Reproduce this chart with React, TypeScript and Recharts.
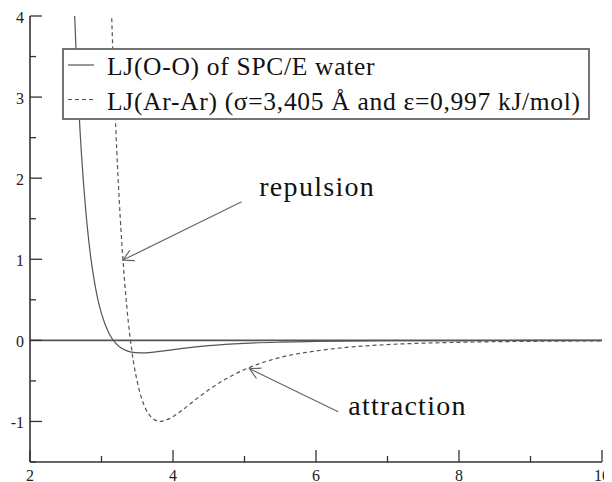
import { LineChart, Line, XAxis, YAxis, ReferenceLine, Legend } from 'recharts';

// LJ(O-O), SPC/E water: separation r (Å) and potential
const ooR = [2.6, 2.65, 2.7, 2.75, 2.8, 2.85, 2.9, 2.95, 3.0, 3.1, 3.2, 3.3, 3.4, 3.55, 3.7, 3.9, 4.2, 4.5, 5, 5.5, 6, 7, 8, 9, 10];
const ooV = [4.57, 3.44, 2.58, 1.92, 1.41, 1.02, 0.73, 0.5, 0.33, 0.095, -0.036, -0.107, -0.141, -0.155, -0.148, -0.127, -0.093, -0.066, -0.037, -0.022, -0.013, -0.005, -0.0024, -0.0012, -0.0006];

// LJ(Ar-Ar)
const arR = [3.14, 3.16, 3.2, 3.25, 3.3, 3.35, 3.4, 3.45, 3.5, 3.6, 3.7, 3.82, 3.95, 4.1, 4.3, 4.5, 4.75, 5, 5.5, 6, 6.5, 7, 8, 9, 10];
const arV = [4.06, 3.53, 2.61, 1.7, 1.0, 0.45, 0.036, -0.28, -0.51, -0.81, -0.95, -1.0, -0.965, -0.88, -0.74, -0.61, -0.47, -0.36, -0.21, -0.13, -0.081, -0.052, -0.024, -0.012, -0.006];

const xTicks = [2, 3, 4, 5, 6, 7, 8, 9, 10];
const yTicks = [-1.5, -1, -0.5, 0, 0.5, 1, 1.5, 2, 2.5, 3, 3.5, 4];

const seriesNames = ['LJ(O-O) of SPC/E water', 'LJ(Ar-Ar) (σ=3,405 Å and ε=0,997 kJ/mol)'];

// arrow annotations: text, arrow tail and arrow tip in data units
const noteText = ['repulsion', 'attraction'];
const noteFrom = [[4.96, 1.71], [6.31, -0.88]];
const noteTo = [[3.3, 0.99], [5.07, -0.35]];

const ooData = ooR.map((r, i) => ({ r, v: ooV[i] }));
const arData = arR.map((r, i) => ({ r, v: arV[i] }));

const SERIF = "'Liberation Serif'";
const AXIS = '#333';
const CURVE = '#555';
const dashes = [undefined, '4 3'];
const noteOffset = [[17.6, -5.7], [10, 3.3]];

function XTick(props: any) {
  const { x, y, payload, side } = props;
  const v = payload.value;
  const major = v % 2 === 0;
  const len = major ? 12 : 6;
  const dir = side === 'bottom' ? -1 : 1;
  return (
    <g>
      <line x1={x} y1={y} x2={x} y2={y + dir * len} stroke={AXIS} strokeWidth={1.3} />
      {side === 'bottom' && major && (
        <text x={x} y={y + 18.5} textAnchor="middle" fontSize={16} fontFamily={SERIF} fill="#222">
          {String(v)}
        </text>
      )}
    </g>
  );
}

function YTick(props: any) {
  const { x, y, payload, side } = props;
  const v = payload.value;
  const major = Number.isInteger(v);
  const len = major ? 12 : 6;
  const dir = side === 'left' ? 1 : -1;
  return (
    <g>
      <line x1={x} y1={y} x2={x + dir * len} y2={y} stroke={AXIS} strokeWidth={1.3} />
      {side === 'left' && major && (
        <text x={x - 6} y={y + 6.5} textAnchor="end" fontSize={16} fontFamily={SERIF} fill="#222">
          {String(v)}
        </text>
      )}
    </g>
  );
}

function Arrow(props: any) {
  const { x1, y1, x2, y2, idx } = props;
  const ang = Math.atan2(y1 - y2, x1 - x2);
  const w = 0.5;
  const L = 12;
  const d = `M${x2 + L * Math.cos(ang + w)},${y2 + L * Math.sin(ang + w)}L${x2},${y2}L${x2 + L * Math.cos(ang - w)},${y2 + L * Math.sin(ang - w)}`;
  return (
    <g>
      <line x1={x1} y1={y1} x2={x2} y2={y2} stroke="#666" strokeWidth={1.2} />
      <path d={d} fill="none" stroke="#666" strokeWidth={1.2} />
      <text
        x={x1 + noteOffset[idx][0]}
        y={y1 + noteOffset[idx][1]}
        fontSize={28}
        fontFamily={SERIF}
        letterSpacing={1.3}
        fill="#111"
      >
        {noteText[idx]}
      </text>
    </g>
  );
}

function LegendBox() {
  return (
    <svg width={528} height={72} style={{ display: 'block' }}>
      <rect x={1} y={1} width={526} height={70} fill="#fff" stroke="#666" strokeWidth={1.8} />
      {seriesNames.map((name, i) => (
        <g key={name}>
          <line x1={6} x2={32} y1={17 + i * 34.5} y2={17 + i * 34.5} stroke={CURVE} strokeWidth={1.2} strokeDasharray={dashes[i]} />
          <text x={45} y={26.5 + i * 35} fontSize={25.5} fontFamily={SERIF} letterSpacing={0.7} fill="#111">
            {name}
          </text>
        </g>
      ))}
    </svg>
  );
}

export default function App() {
  return (
    <div>
      <LineChart width={604} height={474} margin={{ top: 8, right: 10, bottom: 0, left: 0 }}>
        <XAxis
          xAxisId="b"
          type="number"
          dataKey="r"
          domain={[2, 10]}
          ticks={xTicks}
          interval={0}
          allowDataOverflow
          height={20}
          tickLine={false}
          tickSize={0}
          tickMargin={0}
          axisLine={{ stroke: AXIS, strokeWidth: 1.6 }}
          tick={(p: any) => <XTick {...p} side="bottom" />}
        />
        <XAxis
          xAxisId="t"
          orientation="top"
          type="number"
          dataKey="r"
          domain={[2, 10]}
          ticks={xTicks}
          interval={0}
          allowDataOverflow
          height={0}
          tickLine={false}
          tickSize={0}
          tickMargin={0}
          axisLine={{ stroke: AXIS, strokeWidth: 1.6 }}
          tick={(p: any) => <XTick {...p} side="top" />}
        />
        <YAxis
          yAxisId="l"
          type="number"
          domain={[-1.5, 4]}
          ticks={yTicks}
          interval={0}
          allowDataOverflow
          width={22}
          tickLine={false}
          tickSize={0}
          tickMargin={0}
          axisLine={{ stroke: AXIS, strokeWidth: 1.6 }}
          tick={(p: any) => <YTick {...p} side="left" />}
        />
        <YAxis
          yAxisId="r"
          orientation="right"
          type="number"
          domain={[-1.5, 4]}
          ticks={yTicks}
          interval={0}
          allowDataOverflow
          width={0}
          tickLine={false}
          tickSize={0}
          tickMargin={0}
          axisLine={{ stroke: AXIS, strokeWidth: 1.6 }}
          tick={(p: any) => <YTick {...p} side="right" />}
        />
        <ReferenceLine xAxisId="b" yAxisId="l" y={0} stroke="#555" strokeWidth={1.8} />
        <Line
          xAxisId="b"
          yAxisId="l"
          data={ooData}
          dataKey="v"
          name={seriesNames[0]}
          type="monotone"
          dot={false}
          stroke={CURVE}
          strokeWidth={1.2}
          isAnimationActive={false}
        />
        <Line
          xAxisId="b"
          yAxisId="l"
          data={arData}
          dataKey="v"
          name={seriesNames[1]}
          type="monotone"
          dot={false}
          stroke={CURVE}
          strokeWidth={1.2}
          strokeDasharray={dashes[1]}
          isAnimationActive={false}
        />
        {noteText.map((t, i) => (
          <ReferenceLine
            key={t}
            xAxisId="b"
            yAxisId="l"
            segment={[
              { x: noteFrom[i][0], y: noteFrom[i][1] },
              { x: noteTo[i][0], y: noteTo[i][1] },
            ]}
            shape={(p: any) => <Arrow {...p} idx={i} />}
          />
        ))}
        <Legend
          layout="horizontal"
          verticalAlign="middle"
          align="center"
          content={() => <LegendBox />}
          wrapperStyle={{ left: 54, top: 40, width: 528, height: 72 }}
        />
      </LineChart>
    </div>
  );
}
